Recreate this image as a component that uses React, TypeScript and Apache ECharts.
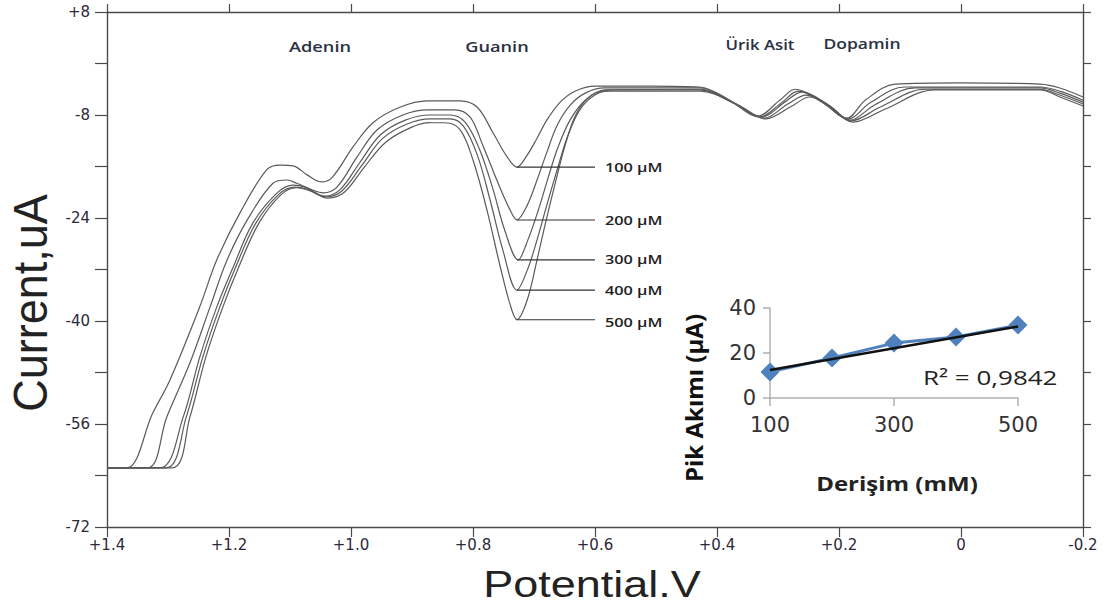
import React, { useEffect, useRef } from 'react';
import * as echarts from 'echarts';

// ---- Data (potential in V, current in uA) ----
const concLabels = ['100 µM', '200 µM', '300 µM', '400 µM', '500 µM'];
const peakNames = ['Adenin', 'Guanin', 'Ürik Asit', 'Dopamin'];

const curve100 = [[1.400,-62.8],[1.367,-62.8],[1.325,-54.3],[1.297,-49.2],[1.248,-37.8],[1.220,-30.5],[1.182,-23.2],[1.138,-16.5],[1.116,-15.8],[1.095,-15.9],[1.072,-17.3],[1.048,-18.4],[1.030,-17.6],[0.997,-13.0],[0.964,-9.2],[0.920,-6.8],[0.875,-5.8],[0.821,-5.8],[0.793,-6.8],[0.767,-10.8],[0.744,-14.5],[0.728,-16.1],[0.711,-14.2],[0.695,-11.6],[0.679,-8.8],[0.657,-6.0],[0.633,-4.3],[0.600,-3.5],[0.510,-3.5],[0.428,-3.65],[0.379,-5.7],[0.334,-8.2],[0.297,-5.7],[0.272,-4.0],[0.231,-5.7],[0.187,-8.5],[0.157,-5.7],[0.108,-3.2],[0.002,-3.0],[-0.130,-3.2],[-0.162,-3.8],[-0.200,-5.2]];
const curve200 = [[1.400,-62.8],[1.333,-62.8],[1.302,-54.9],[1.264,-46.5],[1.231,-37.8],[1.203,-30.5],[1.170,-24.3],[1.128,-18.6],[1.105,-18.1],[1.089,-18.6],[1.062,-19.7],[1.046,-20.1],[1.023,-19.2],[0.990,-14.5],[0.957,-10.3],[0.915,-8.0],[0.875,-7.2],[0.830,-7.2],[0.805,-8.3],[0.784,-12.7],[0.761,-18.1],[0.739,-22.8],[0.728,-24.3],[0.711,-22.0],[0.695,-18.1],[0.679,-13.8],[0.662,-9.6],[0.641,-6.5],[0.616,-4.6],[0.584,-3.8],[0.428,-3.8],[0.379,-5.8],[0.330,-8.3],[0.293,-6.0],[0.267,-4.3],[0.228,-6.0],[0.184,-8.6],[0.149,-6.1],[0.092,-3.65],[-0.130,-3.65],[-0.162,-4.3],[-0.200,-5.7]];
const curve300 = [[1.400,-62.8],[1.313,-62.8],[1.275,-54.9],[1.248,-45.6],[1.220,-37.8],[1.193,-31.6],[1.161,-24.8],[1.121,-20.1],[1.095,-18.9],[1.075,-19.2],[1.043,-20.6],[1.018,-19.6],[0.985,-15.3],[0.952,-11.1],[0.911,-8.8],[0.870,-8.0],[0.838,-8.0],[0.813,-9.1],[0.789,-13.4],[0.767,-19.6],[0.748,-25.9],[0.726,-30.5],[0.710,-27.4],[0.693,-22.8],[0.677,-17.8],[0.661,-13.1],[0.641,-8.8],[0.616,-5.7],[0.584,-4.1],[0.428,-4.0],[0.375,-6.0],[0.326,-8.3],[0.289,-6.0],[0.260,-4.4],[0.223,-6.1],[0.182,-8.8],[0.141,-6.4],[0.075,-3.8],[-0.130,-3.8],[-0.162,-4.6],[-0.200,-6.0]];
const curve400 = [[1.400,-62.8],[1.303,-62.8],[1.270,-54.9],[1.243,-45.6],[1.215,-37.8],[1.189,-31.6],[1.156,-24.8],[1.118,-20.3],[1.092,-19.2],[1.072,-19.5],[1.041,-20.7],[1.015,-19.8],[0.982,-15.8],[0.949,-11.7],[0.908,-9.4],[0.870,-8.6],[0.838,-8.6],[0.816,-9.7],[0.793,-14.2],[0.772,-21.2],[0.751,-29.0],[0.728,-35.2],[0.711,-32.1],[0.695,-27.4],[0.679,-22.0],[0.662,-16.5],[0.646,-11.6],[0.625,-7.2],[0.600,-4.9],[0.572,-4.1],[0.428,-4.1],[0.370,-6.3],[0.323,-8.5],[0.284,-6.3],[0.254,-4.9],[0.218,-6.4],[0.180,-8.9],[0.133,-6.8],[0.059,-4.0],[-0.130,-4.0],[-0.162,-4.9],[-0.200,-6.3]];
const curve500 = [[1.400,-62.8],[1.293,-62.8],[1.264,-54.9],[1.238,-45.6],[1.210,-37.8],[1.184,-31.6],[1.151,-24.8],[1.115,-20.4],[1.089,-19.3],[1.069,-19.7],[1.038,-20.9],[1.011,-20.0],[0.979,-16.2],[0.944,-12.3],[0.903,-10.0],[0.870,-9.2],[0.846,-9.2],[0.821,-10.3],[0.800,-15.0],[0.777,-22.8],[0.756,-31.3],[0.739,-37.5],[0.728,-39.8],[0.711,-36.7],[0.695,-30.5],[0.682,-25.1],[0.666,-18.9],[0.649,-12.7],[0.630,-7.7],[0.605,-4.9],[0.575,-4.3],[0.428,-4.3],[0.366,-6.4],[0.320,-8.6],[0.277,-6.6],[0.248,-5.2],[0.215,-6.6],[0.177,-9.1],[0.125,-7.1],[0.043,-4.1],[-0.130,-4.1],[-0.162,-5.2],[-0.200,-6.6]];
const curves = [curve100, curve200, curve300, curve400, curve500];

const guaninePeakPotential = 0.728;
const leaderEndPotential = 0.6;
const guaninePeakCurrents = [-16.1, -24.3, -30.5, -35.2, -39.8];

// inset
const insetConc = [100, 200, 300, 400, 500];
const insetCurrent = [11.6, 17.8, 24.4, 27.1, 32.4];
const trendStart = [100, 12.4];
const trendEnd = [500, 31.8];
const insetXLabels = [100, 300, 500];
const r2Text = 'R² = 0,9842';

const AX = '#4a4a4a';
const TICKFONT = '"DejaVu Sans", sans-serif';

export default function App() {
  const ref = useRef<HTMLDivElement>(null);
  useEffect(() => {
    if (!ref.current) return;
    const chart = echarts.init(ref.current, undefined, { renderer: 'svg' });

    const fmtX = (v: number) => {
      if (Math.abs(v) < 1e-6) return '0';
      return v > 0 ? '+' + v.toFixed(1) : v.toFixed(1);
    };
    const fmtY = (v: number) => {
      const r = Math.round(v);
      if (((r + 72) % 16) !== 0) return '';
      return r > 0 ? '+' + r : String(r);
    };

    const curveSeries = curves.map((c, i) => ({
      type: 'line',
      name: concLabels[i],
      xAxisIndex: 0,
      yAxisIndex: 0,
      data: c,
      showSymbol: false,
      smooth: 0.35,
      lineStyle: { color: '#5a5a5a', width: 1.2 },
      z: 2,
    }));
    const leaderSeries = guaninePeakCurrents.map((v, i) => ({
      type: 'line',
      name: 'leader ' + concLabels[i],
      xAxisIndex: 0,
      yAxisIndex: 0,
      data: [[guaninePeakPotential, v], [leaderEndPotential, v]],
      showSymbol: false,
      lineStyle: { color: '#333', width: 1.1 },
      z: 3,
    }));

    const mainAxisCommon = {
      type: 'value',
      gridIndex: 0,
      splitLine: { show: false },
      axisLine: { show: true, onZero: false, lineStyle: { color: AX, width: 1.4 } },
    };

    chart.setOption({
      animation: false,
      backgroundColor: '#ffffff',
      grid: [
        { left: 107, right: 29, top: 12, bottom: 85 },
        { left: 770, width: 248, top: 308, height: 90 },
      ],
      xAxis: [
        {
          ...mainAxisCommon,
          position: 'bottom',
          min: -0.2, max: 1.4, interval: 0.2, inverse: true,
          axisTick: { show: true, inside: false, length: 10, lineStyle: { color: AX, width: 1.2 } },
          axisLabel: { formatter: fmtX, margin: 10, fontSize: 15, fontFamily: TICKFONT, color: '#2e2838' },
        },
        {
          ...mainAxisCommon,
          position: 'top',
          min: -0.2, max: 1.4, interval: 0.2, inverse: true,
          axisTick: { show: true, inside: false, length: 8, lineStyle: { color: AX, width: 1.2 } },
          axisLabel: { show: false },
        },
        {
          type: 'value',
          gridIndex: 1,
          min: 100, max: 500, interval: 100,
          splitLine: { show: false },
          axisLine: { show: true, onZero: false, lineStyle: { color: '#b0b0b0', width: 1.5 } },
          axisTick: { show: true, customValues: insetXLabels, length: 8, lineStyle: { color: '#b0b0b0', width: 1.5 } },
          axisLabel: { customValues: insetXLabels, margin: 16, fontSize: 21, fontFamily: TICKFONT, color: '#333' },
        },
      ],
      yAxis: [
        {
          ...mainAxisCommon,
          position: 'left',
          min: -72, max: 8, interval: 8,
          axisTick: { show: true, inside: false, length: 12, lineStyle: { color: AX, width: 1.2 } },
          axisLabel: { formatter: fmtY, margin: 17, fontSize: 15, fontFamily: TICKFONT, color: '#2e2838' },
        },
        {
          ...mainAxisCommon,
          position: 'right',
          min: -72, max: 8, interval: 8,
          axisTick: { show: true, inside: false, length: 8, lineStyle: { color: AX, width: 1.2 } },
          axisLabel: { show: false },
        },
        {
          type: 'value',
          gridIndex: 1,
          min: 0, max: 40, interval: 20,
          splitLine: { show: false },
          axisLine: { show: true, onZero: false, lineStyle: { color: '#b0b0b0', width: 1.5 } },
          axisTick: { show: true, length: 7, lineStyle: { color: '#b0b0b0', width: 1.5 } },
          axisLabel: { margin: 14, fontSize: 21, fontFamily: TICKFONT, color: '#333' },
        },
      ],
      series: [
        ...curveSeries,
        ...leaderSeries,
        {
          type: 'line',
          name: 'Pik Akımı',
          xAxisIndex: 2,
          yAxisIndex: 2,
          data: insetConc.map((c, i) => [c, insetCurrent[i]]),
          symbol: 'diamond',
          symbolSize: 19,
          itemStyle: { color: '#4f81bd' },
          lineStyle: { color: '#4f81bd', width: 3 },
          z: 3,
        },
        {
          type: 'line',
          name: 'trend',
          xAxisIndex: 2,
          yAxisIndex: 2,
          data: [trendStart, trendEnd],
          showSymbol: false,
          lineStyle: { color: '#111', width: 2.5 },
          z: 4,
        },
      ],
      graphic: [
        { type: 'text', x: 320, y: 47, style: { text: peakNames[0], font: '600 14px "Open Sans", sans-serif', fill: '#2a3142', align: 'center', verticalAlign: 'middle' }, scaleX: 1.3 },
        { type: 'text', x: 497, y: 47, style: { text: peakNames[1], font: '600 14px "Open Sans", sans-serif', fill: '#2a3142', align: 'center', verticalAlign: 'middle' }, scaleX: 1.3 },
        { type: 'text', x: 760, y: 45, style: { text: peakNames[2], font: '600 14px "Open Sans", sans-serif', fill: '#2a3142', align: 'center', verticalAlign: 'middle' }, scaleX: 1.2 },
        { type: 'text', x: 862, y: 44, style: { text: peakNames[3], font: '600 14px "Open Sans", sans-serif', fill: '#2a3142', align: 'center', verticalAlign: 'middle' }, scaleX: 1.25 },
        ...concLabels.map((t, i) => ({
          type: 'text', x: 605, y: [167, 220, 259, 290, 322][i],
          style: { text: t, font: '600 13px "Open Sans", sans-serif', fill: '#222', align: 'left', verticalAlign: 'middle' },
          scaleX: 1.25,
        })),
        { type: 'text', x: 592, y: 585, style: { text: 'Potential.V', font: '36px "Liberation Sans", Arial, sans-serif', fill: '#222', align: 'center', verticalAlign: 'middle' }, scaleX: 1.25 },
        { type: 'text', x: 31, y: 303, rotation: Math.PI / 2, style: { text: 'Current,uA', font: '45px "Liberation Sans", Arial, sans-serif', fill: '#222', align: 'center', verticalAlign: 'middle' }, scaleY: 1.05 },
        { type: 'text', x: 693, y: 398, rotation: Math.PI / 2, style: { text: 'Pik Akımı (µA)', font: 'bold 24px "Open Sans", sans-serif', fill: '#111', align: 'center', verticalAlign: 'middle' } },
        { type: 'text', x: 897, y: 483, style: { text: 'Derişim (mM)', font: 'bold 20px "Open Sans", sans-serif', fill: '#222', align: 'center', verticalAlign: 'middle' }, scaleX: 1.2 },
        { type: 'text', x: 923, y: 377, style: { text: r2Text, font: '20px "Open Sans", sans-serif', fill: '#222', align: 'left', verticalAlign: 'middle' }, scaleX: 1.3 },
      ],
    });
    return () => chart.dispose();
  }, []);
  return <div ref={ref} style={{ position: 'absolute', left: 0, top: 0, width: 1112, height: 612 }} />;
}
